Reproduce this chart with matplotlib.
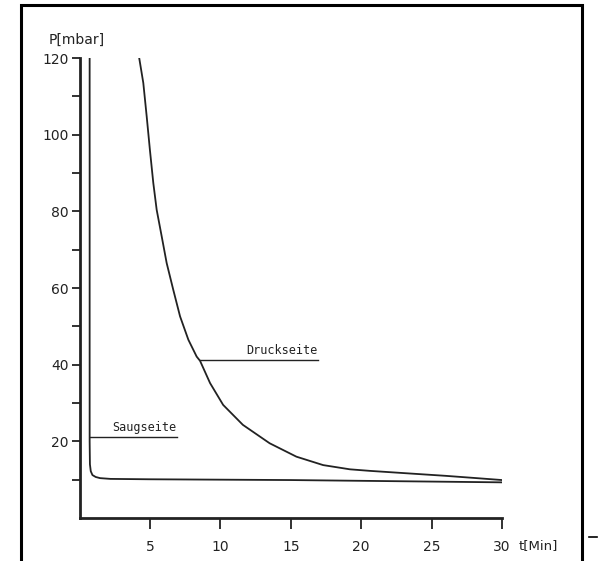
import numpy as np
import matplotlib
matplotlib.use('Agg')
import matplotlib.pyplot as plt
from matplotlib.lines import Line2D
from matplotlib.patches import Rectangle

# Druckseite curve
t_druck = [4.24, 4.53, 4.77, 5.0, 5.24, 5.48, 5.84, 6.19, 6.66, 7.14, 7.73,
           8.32, 8.56, 9.27, 10.2, 11.6, 13.5, 15.4, 17.3, 19.2, 20.6,
           23.5, 26.0, 28.2, 30.0]
p_druck = [120, 113.5, 104.8, 96.0, 87.4, 80.4, 73.4, 66.5, 59.5, 52.6, 46.5,
           42.1, 41.0, 35.2, 29.5, 24.3, 19.5, 16.0, 13.8, 12.7, 12.3,
           11.6, 11.0, 10.4, 9.9]

# Saugseite curve
t_saug = [0.72, 0.72, 0.74, 0.80, 0.92, 1.15, 1.46, 2.2, 5.0, 10.0, 15.0,
          20.0, 25.0, 30.0]
p_saug = [120, 20, 14.0, 12.2, 11.2, 10.7, 10.4, 10.2, 10.1, 10.0, 9.9,
          9.7, 9.5, 9.3]

x_ticks = [5, 10, 15, 20, 25, 30]
y_major = [20, 40, 60, 80, 100, 120]
y_minor = [10, 30, 50, 70, 90, 110]

# label leader lines: (text, curve point x, line end x, y)
druck_label = ('Druckseite', 8.56, 16.9, 41.3)
saug_label = ('Saugseite', 0.72, 6.9, 21.2)

ink = '#222222'

fig = plt.figure(figsize=(5.98, 5.61), dpi=100)
ax = fig.add_axes([79.5 / 598, 43 / 561, 422.5 / 598, 460 / 561])

ax.plot(t_druck, p_druck, color=ink, lw=1.3, solid_joinstyle='round')
ax.plot(t_saug, p_saug, color=ink, lw=1.3, solid_joinstyle='round')

for name, x0, x1, y in (druck_label, saug_label):
    ax.plot([x0, x1], [y, y], color=ink, lw=1.0)
    ax.text(x1, y + 0.6, name, ha='right', va='bottom', fontsize=8.5,
            family='DejaVu Sans Mono', color=ink)

ax.set_xlim(0, 30)
ax.set_ylim(0, 120)
ax.set_xticks(x_ticks)
ax.set_xticklabels([str(v) for v in x_ticks])
ax.set_yticks(y_major)
ax.set_yticklabels([str(v) for v in y_major])
ax.set_yticks(y_minor, minor=True)

for s in ('top', 'right'):
    ax.spines[s].set_visible(False)
for s in ('left', 'bottom'):
    ax.spines[s].set_linewidth(2.0)
    ax.spines[s].set_color(ink)

ax.tick_params(axis='y', which='both', direction='out', length=6, width=1.3,
               color=ink, labelsize=10, labelcolor=ink, pad=2)
ax.tick_params(axis='x', direction='out', length=8, width=1.3, color=ink,
               labelsize=10, labelcolor=ink, pad=8)

fig.text(49 / 598, 1 - 40 / 561, 'P[mbar]', ha='left', va='center',
         fontsize=10, color=ink)
fig.text(519 / 598, 1 - 546 / 561, 't[Min]', ha='left', va='center',
         fontsize=9.5, color=ink)

# outer frame
fig.patches.append(Rectangle((21 / 598, -0.02), 561 / 598, 1 - 5 / 561 + 0.02,
                             transform=fig.transFigure, fill=False,
                             edgecolor='black', lw=2.2, clip_on=False))
fig.lines.append(Line2D([589 / 598, 597 / 598], [1 - 537 / 561] * 2,
                        transform=fig.transFigure, color='black', lw=1.2))

fig.savefig('out.png', dpi=100, facecolor='white')
